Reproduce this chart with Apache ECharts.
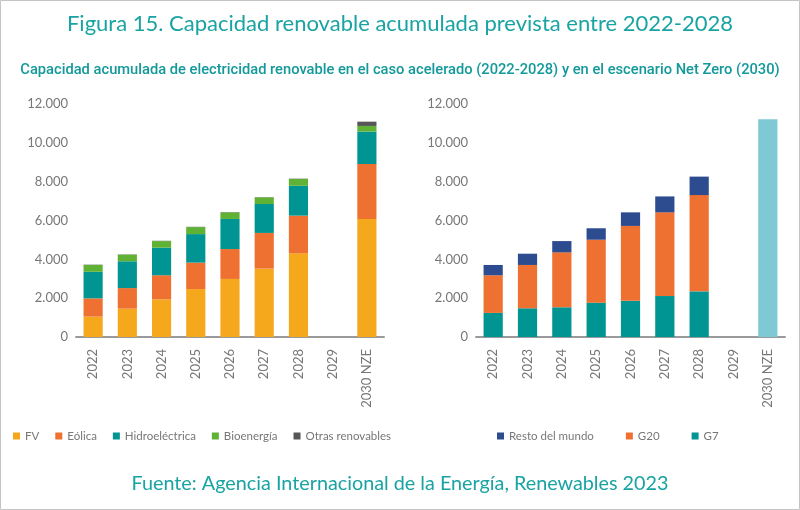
<!DOCTYPE html>
<html><head><meta charset="utf-8">
<script src="https://cdn.jsdelivr.net/npm/echarts@6/dist/echarts.min.js"></script>
<style>html,body{margin:0;padding:0;background:#fff}#c{width:800px;height:510px}</style>
</head><body><div id="c"></div>
<script>
const categories = ['2022','2023','2024','2025','2026','2027','2028','2029','2030 NZE'];
const yTicks = [0, 2000, 4000, 6000, 8000, 10000, 12000];
// Left chart (GW) by technology
const fv      = [1050, 1460, 1940, 2470, 2990, 3520, 4310, null, 6080];
const eolica  = [940, 1060, 1240, 1360, 1540, 1840, 1940, null, 2830];
const hidro   = [1370, 1380, 1420, 1470, 1550, 1490, 1540, null, 1670];
const bio     = [350, 340, 340, 360, 340, 340, 350, null, 290];
const otras   = [15, 15, 15, 15, 15, 15, 15, null, 220];
// Right chart (GW) by group
const g7      = [1240, 1480, 1530, 1770, 1870, 2110, 2350, null, null];
const g20     = [1940, 2230, 2830, 3240, 3850, 4310, 4960, null, null];
const resto   = [530, 580, 580, 590, 700, 820, 950, null, null];
const nze     = [null, null, null, null, null, null, null, null, 11210];

const teal = '#1aa3a3';
const fmt = v => String(v).replace(/\B(?=(\d{3})+(?!\d))/g, '.');
const chart = echarts.init(document.getElementById('c'), null, {renderer: 'canvas'});
const baseFont = 'Lato, "Open Sans", sans-serif';

function xAxis(gi) {
  return {
    type: 'category', gridIndex: gi, data: categories,
    axisTick: {show: false},
    axisLine: {lineStyle: {color: '#9a9a9a', width: 2}},
    axisLabel: {rotate: 90, interval: 0, color: '#777', fontSize: 13, margin: 12, fontFamily: baseFont}
  };
}
function yAxis(gi) {
  return {
    type: 'value', gridIndex: gi, min: yTicks[0], max: yTicks[yTicks.length - 1], interval: 2000,
    axisLine: {show: false}, axisTick: {show: false}, splitLine: {show: false},
    axisLabel: {color: '#777', fontSize: 13, margin: 8, formatter: fmt, fontFamily: baseFont}
  };
}
function bar(name, data, color, xi) {
  return {
    name, type: 'bar', stack: 's' + xi, xAxisIndex: xi, yAxisIndex: xi, data,
    barWidth: '56%', itemStyle: {color}, emphasis: {disabled: true}
  };
}

chart.setOption({
  animation: false,
  textStyle: {fontFamily: baseFont},
  graphic: [{type: 'rect', shape: {x: 0.5, y: 0.5, width: 799, height: 509},
    style: {fill: 'none', stroke: '#c4c4c4', lineWidth: 1}, silent: true}],
  title: [
    {text: 'Figura 15. Capacidad renovable acumulada prevista entre 2022-2028', left: 'center', top: 8,
     textStyle: {color: teal, fontSize: 22, fontWeight: 'normal', fontFamily: baseFont}},
    {text: 'Capacidad acumulada de electricidad renovable en el caso acelerado (2022-2028) y en el escenario Net Zero (2030)',
     left: 'center', top: 58, textStyle: {color: '#13999a', fontSize: 14.7, fontWeight: 500, fontFamily: 'Roboto, sans-serif'}},
    {text: 'Fuente: Agencia Internacional de la Energía, Renewables 2023', left: 'center', top: 469,
     textStyle: {color: teal, fontSize: 19.8, fontWeight: 'normal', fontFamily: baseFont}}
  ],
  legend: [
    {data: ['FV','Eólica','Hidroeléctrica','Bioenergía','Otras renovables'], left: 8, top: 425,
     icon: 'rect', itemWidth: 7, itemHeight: 7, itemGap: 16,
     textStyle: {color: '#777', fontSize: 11.5, fontFamily: baseFont}},
    {data: ['Resto del mundo','G20','G7'], left: 492, top: 425,
     icon: 'rect', itemWidth: 7, itemHeight: 7, itemGap: 32,
     textStyle: {color: '#777', fontSize: 11.5, fontFamily: baseFont}}
  ],
  grid: [
    {left: 76, right: 416, top: 104, bottom: 173},
    {left: 476, right: 15, top: 104, bottom: 173}
  ],
  xAxis: [xAxis(0), xAxis(1)],
  yAxis: [yAxis(0), yAxis(1)],
  series: [
    bar('FV', fv, '#f6a81d', 0),
    bar('Eólica', eolica, '#ee7131', 0),
    bar('Hidroeléctrica', hidro, '#009592', 0),
    bar('Bioenergía', bio, '#5fb234', 0),
    bar('Otras renovables', otras, '#565656', 0),
    bar('G7', g7, '#009592', 1),
    bar('G20', g20, '#ee7131', 1),
    bar('Resto del mundo', resto, '#2d4b8f', 1),
    bar('NZE', nze, '#7ec9d4', 1)
  ]
});
</script></body></html>
